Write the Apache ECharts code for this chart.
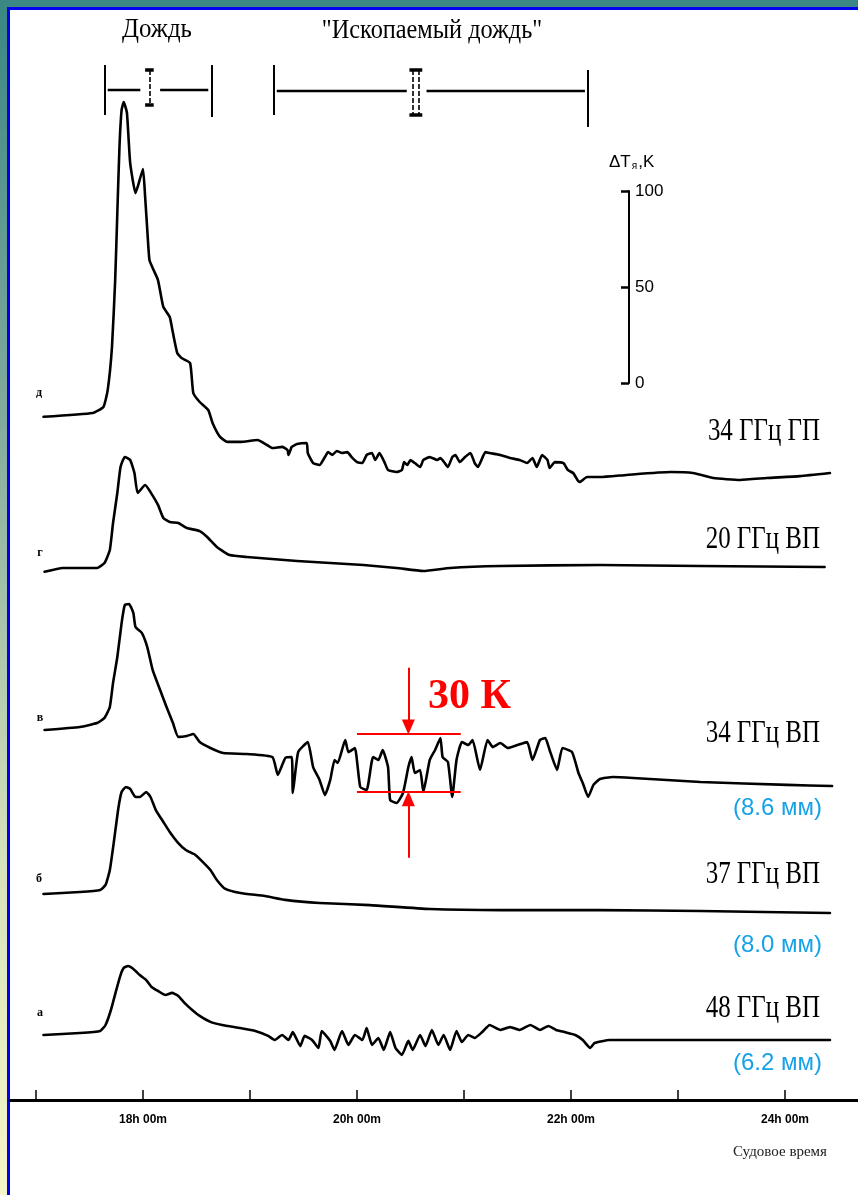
<!DOCTYPE html>
<html>
<head>
<meta charset="utf-8">
<title>Радиояркостные записи: дождь и «ископаемый дождь»</title>
<script src="https://cdn.jsdelivr.net/npm/echarts@6/dist/echarts.min.js"></script>
<style>
  html, body { margin: 0; padding: 0; width: 858px; height: 1195px; overflow: hidden; }
  body { background: linear-gradient(to bottom, #3a8783 0%, #83ab9c 35%, #d6e2bb 72%, #f6f6c8 100%); }
  #sheet { position: absolute; left: 7px; top: 7px; right: -10px; bottom: -10px; background: #fff;
           border-left: 3px solid #0000f0; border-top: 3px solid #0000f0; }
  #chart { position: absolute; left: 0; top: 0; width: 858px; height: 1195px; }
</style>
</head>
<body>
<div id="sheet"></div>
<div id="chart"></div>
<script>
// ---------- data: ship time (h) and brightness-temperature increment ΔT (K) ----------
// each record is measured from its own starting level
const trace34HP = [ // д — 34 ГГц ГП
  [17.07,-0.4],[17.53,1.6],[17.63,4.7],[17.67,13.5],[17.71,35.9],[17.74,70.8],[17.76,105.7],[17.78,140.1],[17.80,159.4],[17.82,163.5],
  [17.85,157.8],[17.88,131.8],[17.93,116.1],[17.95,119.3],[18.00,128.6],[18.02,114.1],[18.04,96.9],[18.06,81.3],[18.09,77.1],[18.14,70.8],
  [18.19,56.8],[18.25,51.6],[18.28,43.2],[18.32,32.8],[18.36,30.2],[18.44,27.6],[18.47,12.0],[18.53,7.3],[18.61,3.1],[18.65,-3.6],
  [18.72,-10.9],[18.79,-13.5],[18.91,-13.5],[19.07,-12.5],[19.16,-15.1],[19.21,-16.7],[19.30,-16.1],[19.35,-17.7],[19.36,-20.3],[19.39,-16.1],
  [19.44,-14.6],[19.53,-14.1],[19.54,-19.3],[19.59,-24.5],[19.65,-25.5],[19.70,-21.4],[19.73,-18.8],[19.77,-20.3],[19.81,-18.2],[19.86,-19.3],
  [19.91,-18.8],[19.95,-21.4],[20.00,-24.0],[20.05,-24.5],[20.09,-20.3],[20.14,-19.3],[20.17,-22.9],[20.21,-19.3],[20.26,-24.5],[20.29,-28.1],
  [20.37,-29.2],[20.42,-28.1],[20.44,-24.0],[20.47,-25.5],[20.50,-22.9],[20.54,-24.5],[20.59,-26.6],[20.62,-22.9],[20.68,-21.4],[20.75,-22.9],
  [20.78,-21.9],[20.82,-24.5],[20.85,-26.6],[20.89,-21.4],[20.92,-20.3],[20.96,-24.0],[21.01,-21.4],[21.06,-19.3],[21.10,-24.5],[21.13,-26.6],
  [21.20,-18.8],[21.24,-19.3],[21.34,-20.3],[21.43,-21.9],[21.52,-22.9],[21.59,-24.5],[21.64,-21.9],[21.68,-26.6],[21.73,-20.3],[21.78,-22.9],
  [21.80,-27.1],[21.85,-24.0],[21.93,-24.5],[21.97,-28.1],[22.02,-29.7],[22.06,-33.3],[22.08,-34.4],[22.15,-31.8],[22.27,-31.8],[22.52,-30.7],
  [22.93,-29.2],[23.14,-29.7],[23.33,-32.3],[23.58,-33.3],[23.83,-32.3],[24.14,-31.3],[24.42,-29.7]
];
const trace20VP = [ // г — 20 ГГц ВП
  [17.08,-0.4],[17.25,1.6],[17.57,1.6],[17.64,4.2],[17.69,10.9],[17.72,25.0],[17.76,40.6],[17.79,54.2],[17.83,59.4],[17.88,57.8],
  [17.92,51.0],[17.95,40.6],[18.02,44.8],[18.07,41.1],[18.14,34.4],[18.19,27.6],[18.25,25.5],[18.33,25.0],[18.41,22.4],[18.53,20.8],
  [18.60,17.7],[18.69,12.5],[18.81,8.3],[18.97,7.3],[19.44,5.2],[20.06,3.1],[20.37,1.6],[20.62,0],[20.87,1.6],[21.34,2.6],
  [22.27,3.1],[23.21,2.6],[24.37,2.1]
];
const trace34VP = [ // в — 34 ГГц ВП
  [17.08,0],[17.41,1.6],[17.57,3.6],[17.64,6.3],[17.69,12.0],[17.72,24.5],[17.76,38.0],[17.80,55.7],[17.83,65.1],[17.87,65.6],
  [17.91,60.9],[17.93,53.6],[17.99,50.5],[18.04,43.2],[18.09,31.3],[18.16,20.8],[18.22,12.0],[18.28,3.6],[18.33,-3.6],[18.41,-3.1],
  [18.47,-2.1],[18.53,-6.3],[18.63,-9.4],[18.75,-12.0],[18.97,-12.5],[19.21,-14.1],[19.26,-23.4],[19.33,-14.6],[19.39,-14.1],[19.40,-32.8],
  [19.45,-11.5],[19.54,-6.3],[19.59,-19.3],[19.65,-26.0],[19.70,-33.9],[19.75,-26.0],[19.79,-15.6],[19.82,-17.2],[19.89,-5.2],[19.92,-11.5],
  [19.98,-9.4],[20.03,-29.7],[20.09,-31.3],[20.15,-14.1],[20.20,-15.6],[20.24,-10.4],[20.29,-19.3],[20.31,-36.5],[20.37,-38.0],[20.43,-32.8],
  [20.48,-19.3],[20.51,-14.1],[20.54,-22.4],[20.59,-20.8],[20.62,-32.3],[20.68,-15.6],[20.73,-10.4],[20.78,-4.2],[20.80,-14.1],[20.85,-16.7],
  [20.89,-34.9],[20.93,-15.6],[20.98,-6.3],[21.04,-7.8],[21.08,-5.2],[21.15,-20.8],[21.22,-5.2],[21.27,-8.9],[21.34,-6.8],[21.41,-9.4],
  [21.50,-7.8],[21.59,-6.3],[21.64,-15.6],[21.71,-5.2],[21.76,-4.2],[21.80,-10.4],[21.87,-20.8],[21.92,-9.4],[22.01,-11.5],[22.07,-22.4],
  [22.11,-27.6],[22.16,-34.9],[22.21,-28.6],[22.27,-25.5],[22.39,-24.5],[22.58,-25.0],[23.21,-27.1],[24.02,-28.6],[24.44,-29.2]
];
const trace37VP = [ // б — 37 ГГц ВП
  [17.07,-0.5],[17.41,0.5],[17.60,1.6],[17.65,4.2],[17.69,12.0],[17.73,27.6],[17.77,44.3],[17.80,52.6],[17.84,55.2],[17.88,54.2],
  [17.93,50.0],[17.97,50.0],[18.03,52.6],[18.07,50.0],[18.12,43.2],[18.19,37.0],[18.25,31.8],[18.33,26.0],[18.40,22.4],[18.49,19.8],
  [18.56,16.1],[18.63,12.0],[18.69,6.8],[18.77,2.1],[18.91,0],[19.14,-1.6],[19.33,-3.6],[19.65,-5.2],[20.12,-6.3],[20.68,-8.3],
  [21.34,-8.9],[22.27,-8.9],[23.21,-9.4],[24.42,-10.4]
];
const trace48VP = [ // а — 48 ГГц ВП
  [17.07,-0.5],[17.41,0.5],[17.60,1.6],[17.65,4.7],[17.70,12.5],[17.75,22.9],[17.79,30.7],[17.82,34.4],[17.86,35.4],[17.91,33.9],
  [17.97,30.7],[18.03,28.1],[18.08,24.5],[18.14,22.4],[18.21,20.3],[18.27,21.4],[18.33,19.8],[18.39,16.1],[18.46,12.5],[18.53,9.4],
  [18.63,6.3],[18.74,4.7],[18.91,3.1],[19.05,1.6],[19.17,-1.0],[19.23,-3.1],[19.30,-0.5],[19.36,-3.1],[19.40,1.0],[19.47,-6.3],
  [19.51,-1.0],[19.58,-3.1],[19.64,-7.3],[19.67,1.6],[19.75,-3.6],[19.79,-8.3],[19.86,1.6],[19.92,-5.7],[19.98,-0.5],[20.05,-3.1],
  [20.09,3.1],[20.14,-5.7],[20.20,-2.1],[20.25,-8.3],[20.31,1.0],[20.36,-7.3],[20.42,-10.9],[20.48,-3.6],[20.52,-8.3],[20.59,-0.5],
  [20.64,-6.3],[20.70,2.1],[20.76,-5.7],[20.81,-0.5],[20.87,-8.3],[20.93,1.6],[20.98,-4.2],[21.04,-0.5],[21.10,-2.1],[21.17,1.0],
  [21.24,4.7],[21.34,2.1],[21.43,3.6],[21.52,2.1],[21.62,4.7],[21.71,2.1],[21.79,4.2],[21.86,2.1],[21.94,1.0],[22.04,-0.5],
  [22.11,-3.1],[22.18,-7.3],[22.22,-4.7],[22.36,-3.1],[23.21,-3.1],[24.42,-3.1]
];

const traceLetters  = ['д', 'г', 'в', 'б', 'а'];
const channelNames  = ['34 ГГц ГП', '20 ГГц ВП', '34 ГГц ВП', '37 ГГц ВП', '48 ГГц ВП'];
const wavelengths   = [null, null, '(8.6 мм)', '(8.0 мм)', '(6.2 мм)'];

const hourTicks   = [17, 18, 19, 20, 21, 22, 23, 24];
const hourLabels  = [18, 20, 22, 24];
const scaleTicks  = [0, 50, 100];

const rainPeriod   = [17.64, 18.64];  // «Дождь», I
const rainMarkAt   = 18.06;
const fossilPeriod = [19.22, 22.16];  // «Ископаемый дождь», II
const fossilMarkAt = 20.55;

const spanK      = 30;                // marked spread of the 34 ГГц ВП record
const spanCenter = -17.1;             // its centre, K from that record's start level
const spanFrom = 20.0, spanTo = 20.97, spanArrowAt = 20.48;

// ---------- layout ----------
const W = 858, H = 1195;
const PX_PER_K = 1.92;                          // 100 K on the scale bar = 192 px
const G = { left: 10, right: 0, top: 10, bottom: 95 };
const axisY = H - G.bottom;
const yMax = (H - G.top - G.bottom) / PX_PER_K;
const X_MIN = 17 - 26 / 107, X_MAX = 17 + 822 / 107;
const traceBaseY = [416, 571, 730, 893, 1034];  // start level of every record, px
const offsets = traceBaseY.map(y => (axisY - y) / PX_PER_K);
const traces = [trace34HP, trace20VP, trace34VP, trace37VP, trace48VP];

const SERIF = '"Liberation Serif", "Times New Roman", serif';
const SANS  = '"Liberation Sans", Arial, sans-serif';

const chart = echarts.init(document.getElementById('chart'), null, { renderer: 'canvas', width: W, height: H });

// series of the five records
const traceSeries = traces.map((tr, i) => ({
  type: 'line', xAxisIndex: 0, yAxisIndex: 0, silent: true,
  data: tr.map(([t, dT]) => [t, offsets[i] + dT]),
  symbol: 'none', smooth: 0.15,
  lineStyle: { color: '#000', width: 2.6, cap: 'round', join: 'round' }
}));

// period brackets above the records (grid 1: y in px below its top)
function bracket(span, markAt, stems, endBottoms, barBottom, hY) {
  const [a, b] = span;
  const thin = { color: '#000', width: 2, type: 'solid' };
  const bar  = { color: '#000', width: 3.5, type: 'solid' };
  const stem = { color: '#000', width: 1.6, type: [5, 2] };
  const seg = (x1, y1, x2, y2, st) => [{ coord: [x1, y1], lineStyle: st }, { coord: [x2, y2], lineStyle: st }];
  const out = [
    seg(a, 5, a, endBottoms[0], thin),
    seg(b, endBottoms[2], b, endBottoms[1], thin),
    seg(a + 0.03, hY, markAt - 0.085, hY, { color: '#000', width: 2.4, type: 'solid' }),
    seg(markAt + 0.10, hY, b - 0.03, hY, { color: '#000', width: 2.4, type: 'solid' }),
    seg(markAt - 0.04 - (stems - 1) * 0.02, 10, markAt + 0.04 + (stems - 1) * 0.02, 10, bar),
    seg(markAt - 0.04 - (stems - 1) * 0.02, barBottom, markAt + 0.04 + (stems - 1) * 0.02, barBottom, bar)
  ];
  for (let s = 0; s < stems; s++) {
    const x = markAt + (s - (stems - 1) / 2) * 0.05;
    out.push(seg(x, 10, x, barBottom, stem));
  }
  return out;
}
const bracketSeries = {
  type: 'line', xAxisIndex: 1, yAxisIndex: 1, data: [], silent: true,
  markLine: {
    silent: true, symbol: 'none', animation: false, label: { show: false },
    data: [
      ...bracket(rainPeriod, rainMarkAt, 1, [55, 57, 5], 45, 30),
      ...bracket(fossilPeriod, fossilMarkAt, 2, [55, 67, 10], 55, 31)
    ]
  }
};

// 30 K spread marker on the 34 ГГц ВП record
const upK = offsets[2] + spanCenter + spanK / 2;
const loK = offsets[2] + spanCenter - spanK / 2;
const arrowGapK = 7 / PX_PER_K;
const spanLines = {
  type: 'line', xAxisIndex: 0, yAxisIndex: 0, data: [], silent: true,
  markLine: {
    silent: true, symbol: 'none', animation: false, label: { show: false },
    lineStyle: { color: '#ff0000', width: 2, type: 'solid' },
    data: [
      [{ coord: [spanFrom, upK] }, { coord: [spanTo, upK] }],
      [{ coord: [spanFrom, loK] }, { coord: [spanTo, loK] }]
    ]
  }
};
const spanArrows = {
  type: 'line', xAxisIndex: 0, yAxisIndex: 0, data: [], silent: true,
  markLine: {
    silent: true, symbol: ['none', 'triangle'], symbolSize: [13, 15], animation: false, label: { show: false },
    lineStyle: { color: '#ff0000', width: 2, type: 'solid' },
    itemStyle: { color: '#ff0000' },
    data: [
      [{ coord: [spanArrowAt, upK + 34.5] }, { coord: [spanArrowAt, upK + arrowGapK] }],
      [{ coord: [spanArrowAt, loK - 34.5] }, { coord: [spanArrowAt, loK - arrowGapK] }]
    ]
  }
};

// texts
const graphics = [];
const txt = (x, y, text, font, fill, align, scaleX) => graphics.push({
  type: 'text', x, y, scaleX: scaleX || 1, silent: true,
  style: { text, font, fill, align, verticalAlign: 'middle' }
});
txt(157, 30, 'Дождь', '27px ' + SERIF, '#000', 'center', 0.92);
txt(432, 31, '"Ископаемый дождь"', '27px ' + SERIF, '#000', 'center', 0.9);
const labelY = [432, 540, 734, 875, 1009];
const waveY  = [null, null, 808, 945, 1063];
const letterPos = [[39, 393], [40, 553], [40, 718], [39, 879], [40, 1013]];
channelNames.forEach((n, i) => {
  txt(820, labelY[i], n, '32px ' + SERIF, '#000', 'right', 0.78);
  if (wavelengths[i]) txt(822, waveY[i], wavelengths[i], '24px ' + SANS, '#17a2e8', 'right');
  txt(letterPos[i][0], letterPos[i][1], traceLetters[i], 'bold 12px ' + SERIF, '#000', 'center');
});
txt(428, 697, spanK + ' К', 'bold 42px ' + SERIF, '#ff0000', 'left');
txt(780, 1152, 'Судовое время', '15px ' + SERIF, '#222', 'center');
graphics.push({
  type: 'text', x: 609, y: 162, silent: true,
  style: {
    text: '{a|ΔT}{s|я}{a|,K}', verticalAlign: 'middle', fill: '#000',
    rich: { a: { fontSize: 17, fontFamily: SANS, fill: '#000' }, s: { fontSize: 10, fontFamily: SANS, fill: '#000', padding: [9, 1, 0, 1] } }
  }
});

chart.setOption({
  animation: false,
  backgroundColor: 'transparent',
  grid: [
    { left: G.left, right: G.right, top: G.top, bottom: G.bottom },
    { left: G.left, right: G.right, top: 60, height: 70 },
    { left: 629, top: 191, width: 30, height: 192 }
  ],
  xAxis: [
    {
      gridIndex: 0, type: 'value', min: X_MIN, max: X_MAX,
      axisLine: { show: true, onZero: false, lineStyle: { color: '#000', width: 3 } },
      axisTick: { show: true, inside: true, length: 10, customValues: hourTicks, lineStyle: { color: '#000', width: 1.5 } },
      axisLabel: { show: true, customValues: hourLabels, formatter: v => v + 'h 00m', margin: 14,
                   color: '#000', fontSize: 12, fontWeight: 'bold', fontFamily: SANS },
      splitLine: { show: false }
    },
    { gridIndex: 1, type: 'value', min: X_MIN, max: X_MAX, show: false },
    { gridIndex: 2, type: 'value', min: 0, max: 1, show: false }
  ],
  yAxis: [
    { gridIndex: 0, type: 'value', min: 0, max: yMax, show: false },
    { gridIndex: 1, type: 'value', min: 0, max: 70, inverse: true, show: false },
    {
      gridIndex: 2, type: 'value', min: 0, max: 100, interval: 50, position: 'left',
      axisLine: { show: true, lineStyle: { color: '#000', width: 2 } },
      axisTick: { show: true, inside: false, length: 8, customValues: scaleTicks, lineStyle: { color: '#000', width: 2.5 } },
      axisLabel: { show: true, inside: true, margin: 6, color: '#000', fontSize: 17, fontFamily: SANS },
      splitLine: { show: false }
    }
  ],
  series: [...traceSeries, bracketSeries, spanLines, spanArrows],
  graphic: graphics
});
</script>
</body>
</html>
